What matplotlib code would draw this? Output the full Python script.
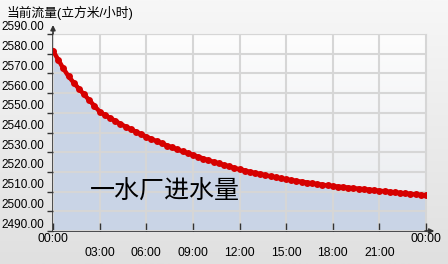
import numpy as np
import matplotlib
matplotlib.use("Agg")
import matplotlib.pyplot as plt
from matplotlib.transforms import ScaledTranslation

plt.rcParams['font.family'] = ['Liberation Sans', 'Noto Sans CJK SC', 'DejaVu Sans']

# 数据: 每20分钟一个点 (小时, 流量)
hours = [i / 3 for i in range(73)]
flow = [2581.5, 2577.0, 2572.5, 2568.5, 2565.3, 2562.2, 2559.3, 2556.4, 2553.5,
        2550.6, 2548.9, 2547.4, 2545.9, 2544.4, 2543.0, 2541.7, 2540.4, 2539.1,
        2537.9, 2536.7, 2535.6, 2534.5, 2533.4, 2532.4, 2531.4, 2530.4, 2529.5,
        2528.6, 2527.7, 2526.8, 2525.9, 2525.1, 2524.3, 2523.5, 2522.8, 2522.0,
        2521.3, 2520.7, 2520.0, 2519.4, 2518.9, 2518.3, 2517.8, 2517.2, 2516.7,
        2516.2, 2515.8, 2515.4, 2515.0, 2514.6, 2514.2, 2513.8, 2513.5, 2513.1,
        2512.8, 2512.5, 2512.3, 2512.0, 2511.7, 2511.5, 2511.2, 2511.0, 2510.7,
        2510.4, 2510.2, 2509.9, 2509.6, 2509.3, 2509.1, 2508.8, 2508.6, 2508.3,
        2508.1]
x_ticks = [0, 3, 6, 9, 12, 15, 18, 21, 24]
x_labels = ["00:00", "03:00", "06:00", "09:00", "12:00", "15:00", "18:00", "21:00", "00:00"]
y_ticks = list(range(2490, 2591, 10))

fig = plt.figure(figsize=(4.48, 2.64), dpi=100)

# 整体灰色渐变背景
bg = fig.add_axes([0, 0, 1, 1], zorder=-10)
grad = np.linspace(0, 1, 256).reshape(-1, 1)
bg.imshow(grad, cmap=matplotlib.colors.LinearSegmentedColormap.from_list(
    "bg", ["#f7f7f7", "#e0e0e0"]), aspect='auto', extent=[0, 1, 0, 1],
    transform=bg.transAxes)
bg.axis('off')

ax = fig.add_axes([53 / 448, 33 / 264, 373 / 448, 197 / 264])
ax.set_facecolor('none')
ax.imshow(grad, cmap=matplotlib.colors.LinearSegmentedColormap.from_list(
    "pa", ["#fdfdfd", "#e8eaee"]), aspect='auto', extent=[0, 1, 0, 1],
    transform=ax.transAxes, zorder=0)

ax.set_xlim(0, 24)
ax.set_ylim(2490, 2590)

ax.fill_between(hours, flow, 2490, color='#c9d4e6', zorder=1)
ax.grid(True, color='#d6d6d6', linewidth=1.5, zorder=2)
ax.set_axisbelow(False)
ax.plot(hours, flow, color='#d60000', linewidth=3.2, marker='o', markersize=5,
        markeredgewidth=0, zorder=4)

ax.set_xticks(x_ticks)
ax.set_xticklabels(x_labels, fontsize=8.8)
ax.set_yticks(y_ticks)
ax.set_yticklabels(["%.2f" % v for v in y_ticks], fontsize=8.5)
ax.tick_params(axis='x', direction='in', length=6, width=1, color='#333333', pad=11.5)
ax.tick_params(axis='y', direction='out', length=4, width=1, color='#333333', pad=2.5)

for lab in ax.get_yticklabels():
    lab.set_transform(lab.get_transform() + ScaledTranslation(0, 0.08, fig.dpi_scale_trans))
xl = ax.get_xticklabels()
for lab in (xl[0], xl[-1]):
    lab.set_transform(lab.get_transform() + ScaledTranslation(0, 0.14, fig.dpi_scale_trans))

for s in ('top', 'right'):
    ax.spines[s].set_color('#d6d6d6')
for s in ('left', 'bottom'):
    ax.spines[s].set_color('#333333')
    ax.spines[s].set_linewidth(1.2)

# 坐标轴箭头
ax.annotate('', xy=(0, 1.06), xytext=(0, 0.99), xycoords='axes fraction',
            arrowprops=dict(arrowstyle='-|>', color='#333333', lw=1.2, mutation_scale=7),
            annotation_clip=False)
ax.annotate('', xy=(1.03, 0), xytext=(0.99, 0), xycoords='axes fraction',
            arrowprops=dict(arrowstyle='-|>', color='#333333', lw=1.2, mutation_scale=7),
            annotation_clip=False)

ax.text(0.1, 0.2, "一水厂进水量", transform=ax.transAxes, fontsize=18,
        family=['Noto Sans CJK SC'], va='center', ha='left', zorder=5)
fig.text(7 / 448, 1 - 13 / 264, "当前流量(立方米/小时)", fontsize=9.2, va='center', ha='left')

fig.savefig("out.png", dpi=100)
